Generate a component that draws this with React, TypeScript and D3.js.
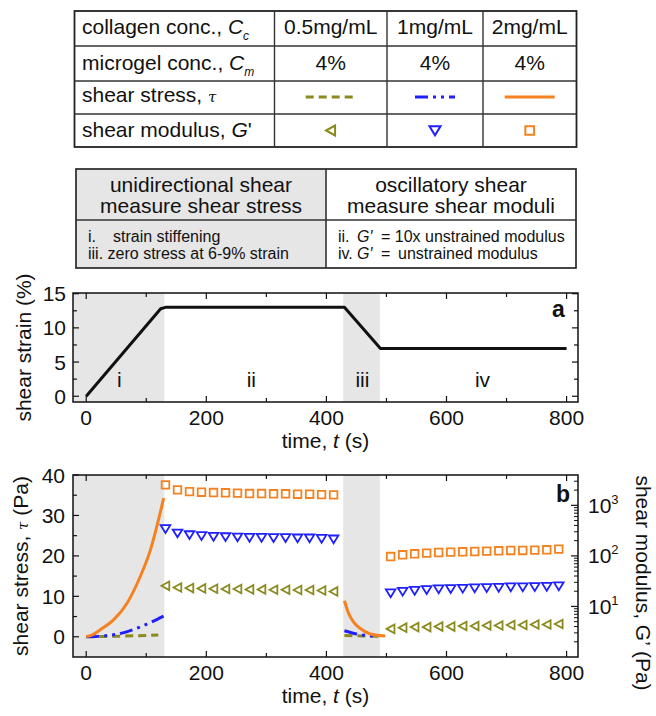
import React from 'react';
import * as d3 from 'd3';

const FONT = '"Liberation Sans", Arial, Helvetica, sans-serif';
const ORANGE = '#f58220';
const BLUE = '#1f1fff';
const OLIVE = '#8a8a1e';
const SHADE = '#e6e6e6';

// ---------- table data ----------
const collagenConc = ['0.5mg/mL', '1mg/mL', '2mg/mL'];
const microgelConc = ['4%', '4%', '4%'];
const seriesColors = [OLIVE, BLUE, ORANGE];
const seriesDash = ['8,5', '13,5,3,5,3,5', null];
const seriesMarker = ['left', 'down', 'square'];
const methodLeftHeader = ['unidirectional shear', 'measure shear stress'];
const methodRightHeader = ['oscillatory shear', 'measure shear moduli'];

// ---------- panel a: strain protocol ----------
const strainTime = [0, 124, 132, 430, 490, 800];
const strainValue = [0, 12.8, 13.0, 13.0, 7.0, 7.0];
const phaseNames = ['i', 'ii', 'iii', 'iv'];
const phaseCenters = [55, 275, 460, 660];
const shadeStart = [-22, 428];
const shadeEnd = [130, 489];
const timeTicks = [0, 200, 400, 600, 800];
const timeMinorTicks = [100, 300, 500, 700];
const strainTicks = [0, 5, 10, 15];
const strainMinorTicks = [2.5, 7.5, 12.5];

// ---------- panel b: shear stress (left axis) ----------
const stressTicks = [0, 10, 20, 30, 40];
const stressMinorTicks = [5, 15, 25, 35];
const modulusTicks = [10, 100, 1000];
const modulusExp = ['1', '2', '3'];

const oliveStressTimeI = [0, 40, 80, 120];
const oliveStressI = [0, 0.1, 0.25, 0.45];
const blueStressTimeI = [0, 20, 40, 57, 79, 101, 129];
const blueStressI = [0, 0.1, 0.4, 0.8, 1.8, 3.1, 5.1];
const orangeStressTimeI = [0, 12, 23, 45, 68, 90, 107, 123, 129];
const orangeStressI = [0, 0.6, 1.7, 4.1, 8.3, 14.9, 21.5, 30.5, 34.3];

const oliveStressTimeIII = [430, 460, 495];
const oliveStressIII = [0.3, 0.2, 0.1];
const blueStressTimeIII = [430, 450, 478, 486];
const blueStressIII = [1.5, 0.7, 0.2, 0.15];
const orangeStressTimeIII = [430, 437, 445, 456, 473, 498];
const orangeStressIII = [8.9, 5.8, 3.7, 2.1, 0.7, 0.2];

// ---------- panel b: shear modulus (right log axis) ----------
const modTimeII = [132, 152, 172, 192, 212, 232, 252, 272, 292, 312, 332, 352, 372, 392, 412];
const oliveModII = [25.6, 23.7, 23.1, 22.7, 22.4, 22.1, 22.1, 21.7, 21.7, 21.4, 21.4, 21.1, 21.1, 20.7, 19.8];
const blueModII = [344, 282, 261, 250, 242, 238, 235, 231, 231, 228, 228, 225, 225, 221, 215];
const orangeModII = [2540, 2020, 1870, 1820, 1790, 1770, 1740, 1710, 1710, 1690, 1690, 1660, 1660, 1630, 1610];

const modTimeIV = [507, 527, 547, 567, 587, 607, 627, 647, 667, 687, 707, 727, 747, 767, 787];
const oliveModIV = [3.6, 3.8, 3.9, 3.9, 4.0, 4.0, 4.1, 4.1, 4.2, 4.2, 4.3, 4.3, 4.4, 4.4, 4.5];
const blueModIV = [18.4, 19.8, 20.7, 21.4, 22.1, 22.4, 22.7, 23.1, 23.4, 23.7, 24.2, 24.2, 24.5, 24.8, 25.3];
const orangeModIV = [97, 105, 110, 113.5, 116.7, 118.8, 120.5, 122.2, 124.4, 126.2, 128, 128, 130, 132, 136];

// ---------- layout ----------
const W = 656;
const H = 716;
const BOX_L = 73;
const BOX_R = 578;
const A_TOP = 293;
const A_BOT = 402;
const B_TOP = 475;
const B_BOT = 657;

const x = d3.scaleLinear().domain([-22, 819]).range([BOX_L, BOX_R]);
const ya = d3.scaleLinear().domain([-0.84, 15.1]).range([A_BOT, A_TOP]);
const yb = d3.scaleLinear().domain([-5, 40]).range([B_BOT, B_TOP]);
const yg = d3.scaleLog().domain([1, Math.pow(10, 3.6)]).range([B_BOT, B_TOP]);

function markerPath(kind: string, cx: number, cy: number, s = 1): string {
  if (kind === 'square') {
    const h = 3.8 * s;
    return `M${cx - h},${cy - h}H${cx + h}V${cy + h}H${cx - h}Z`;
  }
  if (kind === 'down') {
    return `M${cx - 4.8 * s},${cy - 3.6 * s}L${cx + 4.8 * s},${cy - 3.6 * s}L${cx},${cy + 4.2 * s}Z`;
  }
  return `M${cx - 4 * s},${cy}L${cx + 3.8 * s},${cy - 4.3 * s}L${cx + 3.8 * s},${cy + 4.3 * s}Z`;
}

const lineGen = (ys: (v: number) => number) =>
  d3
    .line<[number, number]>()
    .x((d) => x(d[0]))
    .y((d) => ys(d[1]))
    .curve(d3.curveMonotoneX);

const zip = (a: number[], b: number[]): [number, number][] => a.map((v, i) => [v, b[i]]);

function TopTable() {
  const L = 74.5, R = 576.5, T = 11, B = 147;
  const cols = [274.5, 387, 483];
  const rows = [46, 81, 114];
  const centers = [330.7, 435, 529.7];
  const base = [33.5, 70, 102, 136.5];
  return (
    <g fontFamily={FONT} fontSize={21} fill="#111">
      <rect x={L} y={T} width={R - L} height={B - T} fill="#fff" stroke="#222" strokeWidth={1.8} />
      {cols.map((c) => (
        <line key={'c' + c} x1={c} x2={c} y1={T} y2={B} stroke="#333" strokeWidth={1.4} />
      ))}
      {rows.map((r) => (
        <line key={'r' + r} x1={L} x2={R} y1={r} y2={r} stroke="#333" strokeWidth={1.4} />
      ))}
      <text x={82} y={base[0]}>
        collagen conc., <tspan fontStyle="italic">C</tspan>
        <tspan fontStyle="italic" fontSize={12} dy={6}>c</tspan>
      </text>
      <text x={82} y={base[1]}>
        microgel conc., <tspan fontStyle="italic">C</tspan>
        <tspan fontStyle="italic" fontSize={12} dy={6}>m</tspan>
      </text>
      <text x={82} y={base[2]}>
        shear stress, <tspan fontFamily="DejaVu Serif" fontStyle="italic" fontSize={15}>τ</tspan>
      </text>
      <text x={82} y={base[3]}>
        shear modulus, <tspan fontStyle="italic">G</tspan>'
      </text>
      {collagenConc.map((c, i) => (
        <text key={'cc' + i} x={centers[i]} y={base[0]} textAnchor="middle">{c}</text>
      ))}
      {microgelConc.map((c, i) => (
        <text key={'mc' + i} x={centers[i]} y={base[1]} textAnchor="middle">{c}</text>
      ))}
      {seriesColors.map((col, i) => {
        const half = i === 1 ? 20 : 25;
        return (
          <line
            key={'ls' + i}
            x1={centers[i] - half}
            x2={centers[i] + half}
            y1={97}
            y2={97}
            stroke={col}
            strokeWidth={3.2}
            strokeDasharray={seriesDash[i] || undefined}
          />
        );
      })}
      {seriesColors.map((col, i) => (
        <path key={'lm' + i} d={markerPath(seriesMarker[i], centers[i], 130.5, 1.15)} fill="none" stroke={col} strokeWidth={2} />
      ))}
    </g>
  );
}

function MethodTable() {
  const L = 76, R = 576, M = 326, T = 169, B = 268, D = 220;
  return (
    <g fontFamily={FONT} fill="#111">
      <rect x={L} y={T} width={M - L} height={B - T} fill={SHADE} />
      <rect x={L} y={T} width={R - L} height={B - T} fill="none" stroke="#333" strokeWidth={1.8} />
      <line x1={M} x2={M} y1={T} y2={B} stroke="#333" strokeWidth={1.6} />
      <line x1={L} x2={R} y1={D} y2={D} stroke="#333" strokeWidth={1.6} />
      <g fontSize={21} textAnchor="middle">
        <text x={(L + M) / 2} y={191.5}>{methodLeftHeader[0]}</text>
        <text x={(L + M) / 2} y={213}>{methodLeftHeader[1]}</text>
        <text x={(M + R) / 2} y={191.5}>{methodRightHeader[0]}</text>
        <text x={(M + R) / 2} y={213}>{methodRightHeader[1]}</text>
      </g>
      <g fontSize={16}>
        <text x={88} y={241.5}>i.</text>
        <text x={113} y={241.5}>strain stiffening</text>
        <text x={88} y={258.5}>iii. zero stress at 6-9% strain</text>
        <text x={338} y={241.5}>ii.</text>
        <text x={357} y={241.5} fontStyle="italic">G′</text>
        <text x={381} y={241.5}>= 10x unstrained modulus</text>
        <text x={338} y={258.5}>iv.</text>
        <text x={357} y={258.5} fontStyle="italic">G′</text>
        <text x={381} y={258.5}>=</text>
        <text x={398} y={258.5}>unstrained modulus</text>
      </g>
    </g>
  );
}

function XTicks({ top, bot }: { top: number; bot: number }) {
  return (
    <g stroke="#111" strokeWidth={1.2}>
      {timeTicks.map((t) => (
        <g key={'M' + t}>
          <line x1={x(t)} x2={x(t)} y1={bot} y2={bot - 6} />
          <line x1={x(t)} x2={x(t)} y1={top} y2={top + 6} />
        </g>
      ))}
      {timeMinorTicks.map((t) => (
        <g key={'m' + t}>
          <line x1={x(t)} x2={x(t)} y1={bot} y2={bot - 4} />
          <line x1={x(t)} x2={x(t)} y1={top} y2={top + 4} />
        </g>
      ))}
    </g>
  );
}

function PanelA() {
  const strainLine = d3
    .line<[number, number]>()
    .x((d) => x(d[0]))
    .y((d) => ya(d[1]))(zip(strainTime, strainValue));
  return (
    <g fontFamily={FONT} fill="#111">
      {shadeStart.map((s, i) => (
        <rect key={'sa' + i} x={x(s)} y={A_TOP} width={x(shadeEnd[i]) - x(s)} height={A_BOT - A_TOP} fill={SHADE} />
      ))}
      <path d={strainLine || ''} fill="none" stroke="#111" strokeWidth={3} strokeLinejoin="round" />
      {phaseNames.map((p, i) => (
        <text key={p} x={x(phaseCenters[i])} y={ya(1.3)} fontSize={21} textAnchor="middle">{p}</text>
      ))}
      <rect x={BOX_L} y={A_TOP} width={BOX_R - BOX_L} height={A_BOT - A_TOP} fill="none" stroke="#111" strokeWidth={1.5} />
      <XTicks top={A_TOP} bot={A_BOT} />
      <g stroke="#111" strokeWidth={1.2}>
        {strainTicks.map((v) => (
          <g key={'st' + v}>
            <line x1={BOX_L} x2={BOX_L + 6} y1={ya(v)} y2={ya(v)} />
            <line x1={BOX_R} x2={BOX_R - 6} y1={ya(v)} y2={ya(v)} />
          </g>
        ))}
        {strainMinorTicks.map((v) => (
          <g key={'sm' + v}>
            <line x1={BOX_L} x2={BOX_L + 4} y1={ya(v)} y2={ya(v)} />
            <line x1={BOX_R} x2={BOX_R - 4} y1={ya(v)} y2={ya(v)} />
          </g>
        ))}
      </g>
      <g fontSize={21}>
        {timeTicks.map((t) => (
          <text key={'tl' + t} x={x(t)} y={425} textAnchor="middle">{t}</text>
        ))}
        {strainTicks.map((v) => (
          <text key={'sl' + v} x={66} y={ya(v) + 7.5} textAnchor="end">{v}</text>
        ))}
        <text x={(BOX_L + BOX_R) / 2} y={448} textAnchor="middle">
          time, <tspan fontStyle="italic">t</tspan> (s)
        </text>
        <text transform={`translate(31,${(A_TOP + A_BOT) / 2}) rotate(-90)`} textAnchor="middle">
          shear strain (%)
        </text>
      </g>
      <text x={558.5} y={317} fontSize={23} fontWeight="bold" textAnchor="middle">a</text>
    </g>
  );
}

function PanelB() {
  const lg = lineGen(yb);
  const stressSeries = [
    { c: OLIVE, dash: seriesDash[0], d: [zip(oliveStressTimeI, oliveStressI), zip(oliveStressTimeIII, oliveStressIII)] },
    { c: BLUE, dash: seriesDash[1], d: [zip(blueStressTimeI, blueStressI), zip(blueStressTimeIII, blueStressIII)] },
    { c: ORANGE, dash: null, d: [zip(orangeStressTimeI, orangeStressI), zip(orangeStressTimeIII, orangeStressIII)] },
  ];
  const modSeries = [
    { c: OLIVE, m: 'left', d: [zip(modTimeII, oliveModII), zip(modTimeIV, oliveModIV)] },
    { c: BLUE, m: 'down', d: [zip(modTimeII, blueModII), zip(modTimeIV, blueModIV)] },
    { c: ORANGE, m: 'square', d: [zip(modTimeII, orangeModII), zip(modTimeIV, orangeModIV)] },
  ];
  const logMinor: number[] = [];
  [1, 10, 100, 1000].forEach((dec) => {
    for (let k = 2; k <= 9; k++) {
      const v = dec * k;
      if (v < Math.pow(10, 3.6)) logMinor.push(v);
    }
  });
  return (
    <g fontFamily={FONT} fill="#111">
      {shadeStart.map((s, i) => (
        <rect key={'sb' + i} x={x(s)} y={B_TOP} width={x(shadeEnd[i]) - x(s)} height={B_BOT - B_TOP} fill={SHADE} />
      ))}
      {stressSeries.map((s, i) =>
        s.d.map((seg, j) => (
          <path
            key={'ss' + i + '_' + j}
            d={lg(seg) || ''}
            fill="none"
            stroke={s.c}
            strokeWidth={3}
            strokeDasharray={s.dash || undefined}
          />
        ))
      )}
      {modSeries.map((s, i) =>
        s.d.map((seg, j) =>
          seg.map((p, k) => (
            <path
              key={'mk' + i + '_' + j + '_' + k}
              d={markerPath(s.m, x(p[0]), yg(p[1]))}
              fill="none"
              stroke={s.c}
              strokeWidth={1.8}
            />
          ))
        )
      )}
      <rect x={BOX_L} y={B_TOP} width={BOX_R - BOX_L} height={B_BOT - B_TOP} fill="none" stroke="#111" strokeWidth={1.5} />
      <XTicks top={B_TOP} bot={B_BOT} />
      <g stroke="#111" strokeWidth={1.2}>
        {stressTicks.map((v) => (
          <line key={'bt' + v} x1={BOX_L} x2={BOX_L + 6} y1={yb(v)} y2={yb(v)} />
        ))}
        {stressMinorTicks.map((v) => (
          <line key={'bm' + v} x1={BOX_L} x2={BOX_L + 4} y1={yb(v)} y2={yb(v)} />
        ))}
        {modulusTicks.map((v) => (
          <line key={'gt' + v} x1={BOX_R} x2={BOX_R - 7} y1={yg(v)} y2={yg(v)} />
        ))}
        {logMinor.map((v) => (
          <line key={'gm' + v} x1={BOX_R} x2={BOX_R - 4} y1={yg(v)} y2={yg(v)} strokeWidth={1} />
        ))}
      </g>
      <g fontSize={21}>
        {timeTicks.map((t) => (
          <text key={'btl' + t} x={x(t)} y={680} textAnchor="middle">{t}</text>
        ))}
        {stressTicks.map((v) => (
          <text key={'bsl' + v} x={65} y={yb(v) + 7.5} textAnchor="end">{v}</text>
        ))}
        {modulusTicks.map((v, i) => (
          <text key={'gl' + v} x={588} y={yg(v) + 7.5}>
            10<tspan fontSize={13} dy={-9}>{modulusExp[i]}</tspan>
          </text>
        ))}
        <text x={(BOX_L + BOX_R) / 2} y={703} textAnchor="middle">
          time, <tspan fontStyle="italic">t</tspan> (s)
        </text>
        <text transform={`translate(28,${(B_TOP + B_BOT) / 2}) rotate(-90)`} textAnchor="middle">
          shear stress, <tspan fontFamily="DejaVu Serif" fontStyle="italic" fontSize={15}>τ</tspan> (Pa)
        </text>
        <text transform={`translate(636,583) rotate(90)`} textAnchor="middle">
          shear modulus, G’ (Pa)
        </text>
      </g>
      <text x={563} y={502} fontSize={23} fontWeight="bold" textAnchor="middle">b</text>
    </g>
  );
}

export default function App() {
  return (
    <svg
      width={W}
      height={H}
      viewBox={`0 0 ${W} ${H}`}
      style={{ position: 'absolute', left: 0, top: 0, background: '#fff', display: 'block' }}
    >
      <rect x={0} y={0} width={W} height={H} fill="#fff" />
      <TopTable />
      <MethodTable />
      <PanelA />
      <PanelB />
    </svg>
  );
}
